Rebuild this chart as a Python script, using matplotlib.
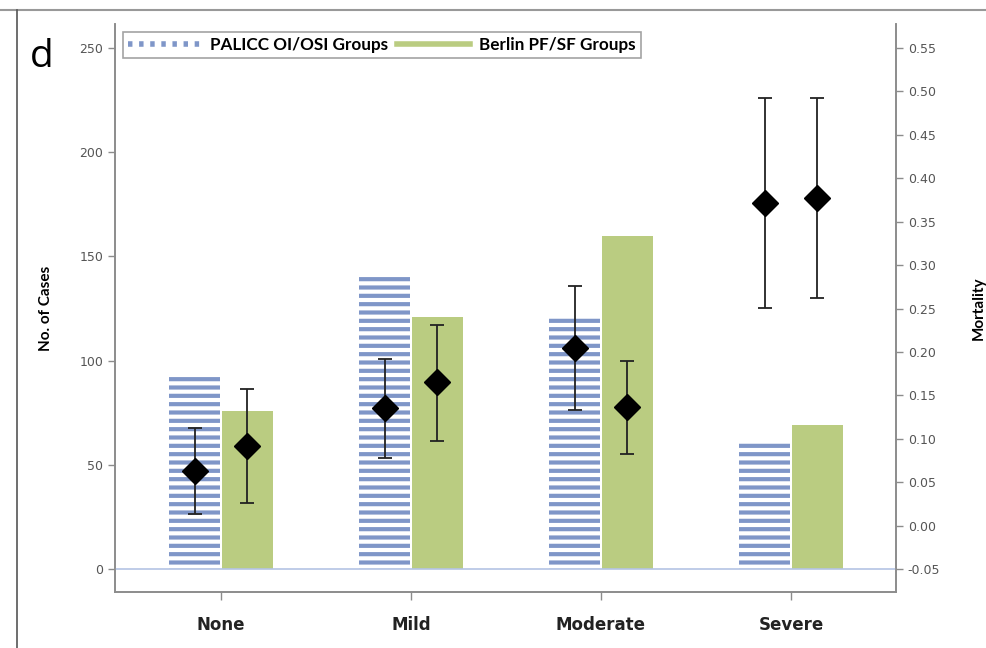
import numpy as np
import matplotlib.pyplot as plt
from matplotlib.lines import Line2D

# data
categories = ['None', 'Mild', 'Moderate', 'Severe']
palicc_cases = [94, 140, 122, 62]
berlin_cases = [76, 121, 160, 69]

palicc_mort = [0.063, 0.136, 0.205, 0.372]
palicc_low = [0.013, 0.078, 0.133, 0.251]
palicc_high = [0.113, 0.192, 0.276, 0.492]

berlin_mort = [0.092, 0.165, 0.137, 0.377]
berlin_low = [0.026, 0.098, 0.083, 0.262]
berlin_high = [0.157, 0.231, 0.190, 0.492]

left_ticks = [0, 50, 100, 150, 200, 250]
right_ticks = [-0.05, 0.0, 0.05, 0.10, 0.15, 0.20, 0.25, 0.30, 0.35, 0.40, 0.45, 0.50, 0.55]

blue = '#7f96c8'
green = '#bacc81'
grey = '#8c8c8c'
label_grey = '#555555'

plt.rcParams['hatch.linewidth'] = 3.0

fig = plt.figure(figsize=(9.87, 6.48), dpi=100)
ax = fig.add_axes([115 / 987, 1 - 592 / 648, (896 - 115) / 987, (592 - 24) / 648])
ax2 = ax.twinx()

x = np.arange(len(categories))
off = 0.139
w = 0.265

ax.bar(x - off, palicc_cases, w, color='white', edgecolor=blue, linewidth=0, hatch='--', zorder=2)
ax.bar(x + off, berlin_cases, w, color=green, linewidth=0, zorder=2)
ax.axhline(0, color='#b4c4e4', lw=1.2, zorder=3)

# mortality with error bars on the right axis
p_err = [np.array(palicc_mort) - np.array(palicc_low), np.array(palicc_high) - np.array(palicc_mort)]
b_err = [np.array(berlin_mort) - np.array(berlin_low), np.array(berlin_high) - np.array(berlin_mort)]
ax2.errorbar(x - off, palicc_mort, yerr=p_err, fmt='D', color='black', ms=13,
             ecolor='#222222', elinewidth=1.3, capsize=5, capthick=1.3)
ax2.errorbar(x + off, berlin_mort, yerr=b_err, fmt='D', color='black', ms=13,
             ecolor='#222222', elinewidth=1.3, capsize=5, capthick=1.3)

ax.set_xlim(-0.558, 3.553)
ax.set_ylim(-11, 261.5)
ax2.set_ylim(-0.05 - 11 * 0.6 / 250, -0.05 + 261.5 * 0.6 / 250)

ax.set_xticks(x)
ax.set_xticklabels(categories, fontsize=12, fontweight='bold', color='#222222')
ax.set_yticks(left_ticks)
ax.set_yticklabels([str(t) for t in left_ticks])
ax2.set_yticks(right_ticks)
ax2.set_yticklabels([f'{t:.2f}' for t in right_ticks])

for a in (ax, ax2):
    a.spines['top'].set_visible(False)
    for s in a.spines.values():
        s.set_color(grey)
        s.set_linewidth(1.2)
    a.tick_params(axis='y', colors=grey, labelcolor=label_grey, labelsize=9, length=5, width=1)
ax.tick_params(axis='x', colors=grey, length=6, width=1, pad=11)
ax.tick_params(axis='x', labelcolor='#222222')

ax.set_ylabel('No. of Cases', fontsize=11, fontweight='bold', family='Lato')
ax.yaxis.set_label_coords(-0.08, 0.5)
ax2.set_ylabel('Mortality', fontsize=11, fontweight='bold', family='Lato')
ax2.yaxis.set_label_coords(1.097, 0.5)

handles = [Line2D([], [], color=blue, lw=4, linestyle=(0, (0.8, 1.2))),
           Line2D([], [], color=green, lw=4)]
leg = fig.legend(handles, ['PALICC OI/OSI Groups', 'Berlin PF/SF Groups'], ncol=2,
                 loc='upper left', bbox_to_anchor=(123 / 987, 1 - 32 / 648),
                 borderaxespad=0, frameon=True, fancybox=False, handlelength=4.3,
                 columnspacing=0.5, handletextpad=0.5, borderpad=0.3,
                 prop={'family': 'Lato', 'weight': 'bold', 'size': 12.3})
leg.get_frame().set_edgecolor(grey)
leg.get_frame().set_linewidth(1.2)

fig.text(30 / 987, 1 - 38 / 648, 'd', fontsize=28, va='top', ha='left', family='Open Sans')

# panel frame lines
fig.add_artist(Line2D([0, 1], [1 - 10 / 648, 1 - 10 / 648], color='#999999', lw=1.5))
fig.add_artist(Line2D([17 / 987, 17 / 987], [0, 1 - 10 / 648], color='#555555', lw=1.2))

fig.savefig('out.png', dpi=100)
